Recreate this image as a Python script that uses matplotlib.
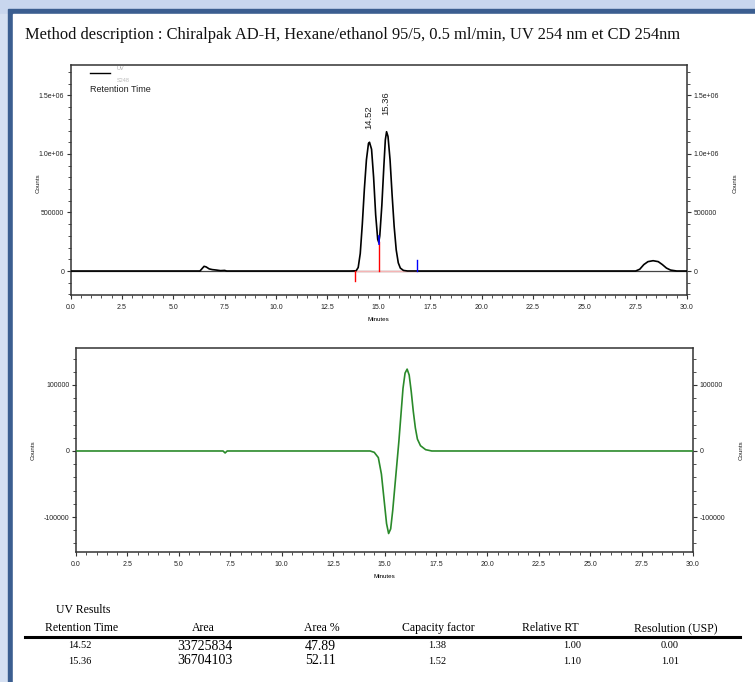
import matplotlib
matplotlib.use("Agg")
import matplotlib.pyplot as plt
from matplotlib.patches import Rectangle
from matplotlib.lines import Line2D
from matplotlib.ticker import MultipleLocator

W, H = 755, 682

# ---------------- data ----------------
uv_time = [0, 6.3, 6.4, 6.5, 6.6, 6.75, 6.9, 7.1, 7.3, 7.5, 7.6,
           13.6, 13.9, 14.0, 14.1, 14.2, 14.3, 14.4, 14.5, 14.55, 14.65, 14.75,
           14.85, 14.95, 15.0, 15.05, 15.15, 15.25, 15.32, 15.38, 15.45, 15.55,
           15.65, 15.75, 15.85, 15.95, 16.05, 16.2, 16.4,
           27.5, 27.7, 27.9, 28.1, 28.35, 28.6, 28.8, 29.0, 29.2, 29.5, 30.0]
uv_counts = [0, 0, 20000, 40000, 35000, 18000, 12000, 8000, 3000, 5000, 0,
             0, 2000, 30000, 150000, 400000, 700000, 950000, 1090000, 1100000, 1040000, 800000,
             480000, 270000, 245000, 300000, 560000, 900000, 1120000, 1190000, 1150000, 950000,
             650000, 380000, 180000, 70000, 25000, 5000, 0,
             0, 15000, 55000, 80000, 88000, 80000, 55000, 25000, 8000, 0, 0]

cd_time = [0, 7.15, 7.25, 7.35, 14.3, 14.5, 14.7, 14.85, 15.0, 15.1, 15.2, 15.3,
           15.4, 15.5, 15.6, 15.7, 15.8, 15.9, 16.0, 16.1, 16.2, 16.3, 16.4, 16.5,
           16.6, 16.75, 17.0, 17.3, 30]
cd_counts = [0, 0, -3000, 0, 0, -2000, -10000, -35000, -80000, -110000, -125000, -118000,
             -90000, -55000, -20000, 15000, 55000, 95000, 118000, 124000, 115000, 90000, 60000, 35000,
             18000, 8000, 2000, 0, 0]

peak_labels = ["14.52", "15.36"]
peak_label_x = [14.52, 15.36]
peak_label_y = [1210000, 1330000]

x_ticks = [0, 2.5, 5, 7.5, 10, 12.5, 15, 17.5, 20, 22.5, 25, 27.5, 30]
x_ticklabels = ["0.0", "2.5", "5.0", "7.5", "10.0", "12.5", "15.0", "17.5",
                "20.0", "22.5", "25.0", "27.5", "30.0"]
uv_yticks = [0, 500000, 1000000, 1500000]
uv_yticklabels = ["0", "500000", "1.0e+06", "1.5e+06"]
cd_yticks = [-100000, 0, 100000]
cd_yticklabels = ["-100000", "0", "100000"]

table_header = ["Retention Time", "Area", "Area %", "Capacity factor", "Relative RT", "Resolution (USP)"]
rt_values = ["14.52", "15.36"]
area_values = ["33725834", "36704103"]
area_pct_values = ["47.89", "52.11"]
capacity_values = ["1.38", "1.52"]
rel_rt_values = ["1.00", "1.10"]
resolution_values = ["0.00", "1.01"]

title = "Method description : Chiralpak AD-H, Hexane/ethanol 95/5, 0.5 ml/min, UV 254 nm et CD 254nm"

# ---------------- helpers ----------------
def fx(px):
    return px / W

def fy(py):
    return 1 - py / H

fig = plt.figure(figsize=(W / 100, H / 100), dpi=100)
fig.patch.set_facecolor("#c8d6ee")

# page frame
fig.add_artist(Rectangle((0, 0), fx(8), fy(14),
                         transform=fig.transFigure, color="#d5e0f2", zorder=-3))
fig.add_artist(Rectangle((fx(8), fy(700)), 1.1, fy(9) - fy(700),
                         transform=fig.transFigure, color="#3b5e90", zorder=-2))
fig.add_artist(Rectangle((fx(13), fy(700)), 1.1, fy(14) - fy(700),
                         transform=fig.transFigure, color="white", zorder=-1))

fig.text(fx(25), fy(35), title, family="Liberation Serif", fontsize=11.9,
         va="center", ha="left", color="#111111")

sans = "Liberation Sans"
tick_fs = 5.0
spine_c = "#333333"

def style_axes(ax):
    for s in ["left", "right", "bottom", "top"]:
        ax.spines[s].set_color(spine_c)
        ax.spines[s].set_linewidth(1.1)
    ax.tick_params(axis="both", which="major", length=3, width=0.8, color=spine_c,
                   labelsize=tick_fs, pad=1.5, direction="out", labelcolor="#222222")
    ax.tick_params(axis="x", which="major", pad=3.5)
    ax.tick_params(axis="both", which="minor", length=2, width=0.6, color=spine_c, direction="out")
    ax.tick_params(axis="y", which="both", left=True, right=True, labelleft=True, labelright=True)
    ax.tick_params(axis="x", which="both", top=False, bottom=True)
    ax.set_xlim(0, 30)
    ax.set_xticks(x_ticks)
    ax.set_xticklabels(x_ticklabels, family=sans, fontsize=tick_fs)
    ax.xaxis.set_minor_locator(MultipleLocator(0.5))
    ax.set_xlabel("Minutes", family=sans, fontsize=4.5, labelpad=4)

def counts_labels(ax, left_px, right_px, y_px):
    fig.text(fx(left_px), fy(y_px), "Counts", rotation=90, family=sans, fontsize=4.5,
             ha="center", va="center", color="#222222")
    fig.text(fx(right_px), fy(y_px), "Counts", rotation=90, family=sans, fontsize=4.5,
             ha="center", va="center", color="#222222")

# ---------------- top UV chromatogram ----------------
ax1 = fig.add_axes([fx(70.5), fy(295), fx(687) - fx(70.5), fy(65) - fy(295)])
ax1.plot(uv_time, uv_counts, color="black", lw=1.2, zorder=3)
ax1.set_ylim(-205000, 1760000)
ax1.set_yticks(uv_yticks)
ax1.set_yticklabels(uv_yticklabels, family=sans, fontsize=tick_fs)
ax1.yaxis.set_minor_locator(MultipleLocator(100000))
style_axes(ax1)
counts_labels(ax1, 38, 735, 183)

# integration markers
ax1.plot([13.82, 16.86], [0, 0], color="#f5b5b5", lw=1.0, zorder=2)
ax1.plot([13.82, 13.82], [0, -85000], color="red", lw=1.0, zorder=4)
ax1.plot([14.99, 14.99], [0, 245000], color="red", lw=1.0, zorder=4)
ax1.plot([14.99, 14.99], [230000, 300000], color="blue", lw=1.2, zorder=5)
ax1.plot([16.86, 16.86], [0, 90000], color="blue", lw=1.0, zorder=4)
ax1.axhline(0, color="#444444", lw=0.9, zorder=1)

for lab, x, y in zip(peak_labels, peak_label_x, peak_label_y):
    ax1.text(x, y, lab, rotation=90, ha="center", va="bottom", family=sans,
             fontsize=6.8, color="#222222")

# legend
fig.add_artist(Line2D([fx(90), fx(110)], [fy(73), fy(73)], transform=fig.transFigure,
                      color="black", lw=1.0))
fig.text(fx(117), fy(69), "UV", family=sans, fontsize=4, color="#aaaaaa", va="center")
fig.text(fx(117), fy(80), "S248", family=sans, fontsize=4, color="#bbbbbb", va="center")
fig.text(fx(90), fy(90), "Retention Time", family=sans, fontsize=6.5, color="#222222", va="center")

# ---------------- bottom CD chromatogram ----------------
ax2 = fig.add_axes([fx(76), fy(552), fx(693) - fx(76), fy(348) - fy(552)])
ax2.plot(cd_time, cd_counts, color="#2a8a2a", lw=1.2, zorder=3)
ax2.set_ylim(-153000, 156000)
ax2.set_yticks(cd_yticks)
ax2.set_yticklabels(cd_yticklabels, family=sans, fontsize=tick_fs)
ax2.yaxis.set_minor_locator(MultipleLocator(20000))
style_axes(ax2)
counts_labels(ax2, 33, 741, 450)

# ---------------- results table ----------------
serif = "Liberation Serif"
tfs = 8.5
fig.text(fx(83), fy(610), "UV Results", family=serif, fontsize=tfs, ha="center", va="center")
header_x = [82, 203, 322, 438, 550, 676]
for hx, h in zip(header_x, table_header):
    fig.text(fx(hx), fy(628), h, family=serif, fontsize=tfs, ha="center", va="center")
fig.add_artist(Line2D([fx(25), fx(740)], [fy(637), fy(637)], transform=fig.transFigure,
                      color="black", lw=2.2))
row_y = [646, 661]
for i, ry in enumerate(row_y):
    fig.text(fx(80), fy(ry), rt_values[i], family=serif, fontsize=7.5, ha="center", va="center")
    fig.text(fx(205), fy(ry), area_values[i], family=serif, fontsize=10, ha="center", va="center")
    fig.text(fx(320), fy(ry), area_pct_values[i], family=serif, fontsize=10, ha="center", va="center")
    fig.text(fx(437), fy(ry), capacity_values[i], family=serif, fontsize=7.5, ha="center", va="center")
    fig.text(fx(581), fy(ry), rel_rt_values[i], family=serif, fontsize=7.5, ha="right", va="center")
    fig.text(fx(670), fy(ry), resolution_values[i], family=serif, fontsize=7.5, ha="center", va="center")

fig.savefig("out.png", dpi=100, facecolor=fig.get_facecolor())
